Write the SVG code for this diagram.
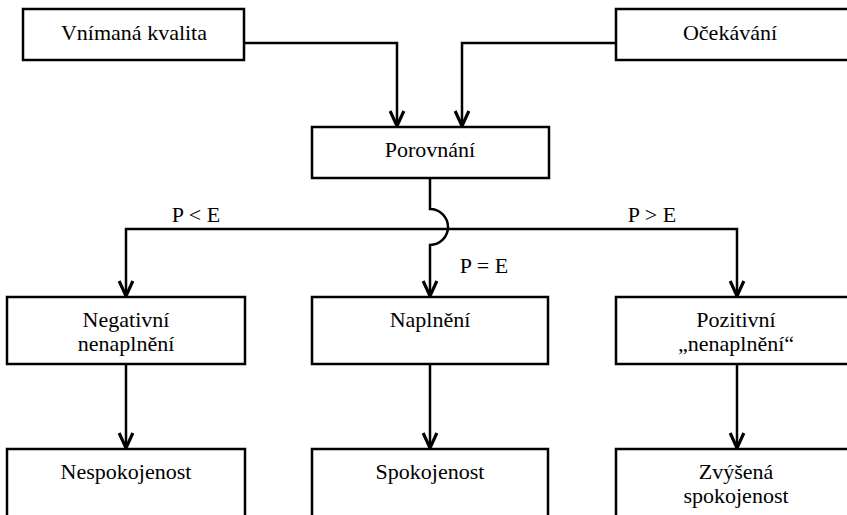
<svg xmlns="http://www.w3.org/2000/svg" width="847" height="515" viewBox="0 0 847 515">
<style>
.box{fill:#fff;stroke:#000;stroke-width:2.5}
.t{font-family:'Liberation Serif','Times New Roman',Times,'DejaVu Serif',serif;font-size:22px;fill:#000;text-anchor:middle}
.c{fill:none;stroke:#000;stroke-width:2.5}
</style>
<defs>
<marker id="ah" markerUnits="userSpaceOnUse" markerWidth="20" markerHeight="20" viewBox="-14 -8 16 16" refX="0" refY="0" orient="auto">
<path d="M-12,-5.5 L0,0 L-12,5.5" fill="none" stroke="#000" stroke-width="2.5"/>
</marker>
</defs>
<rect width="847" height="515" fill="#fff"/>
<g id="connectors">
<path class="c" d="M244 43 H397 V126" marker-end="url(#ah)"/>
<path class="c" d="M616 43 H462 V126" marker-end="url(#ah)"/>
<path class="c" d="M430 178 V209 A18 18 0 0 1 430 245 V296" marker-end="url(#ah)"/>
<path class="c" d="M430 229 H126 V296" marker-end="url(#ah)"/>
<path class="c" d="M430 229 H737 V296" marker-end="url(#ah)"/>
<path class="c" d="M126 364 V448" marker-end="url(#ah)"/>
<path class="c" d="M430 364 V448" marker-end="url(#ah)"/>
<path class="c" d="M737 364 V448" marker-end="url(#ah)"/>
<text class="t" x="196" y="222">P &lt; E</text>
<text class="t" x="652" y="222">P &gt; E</text>
<text class="t" x="484" y="273">P = E</text>
</g>
<g id="n1"><rect class="box" x="23" y="9" width="221" height="51"/><text class="t" x="134" y="40">Vnímaná kvalita</text></g>
<g id="n2"><rect class="box" x="616" y="9" width="240" height="51"/><text class="t" x="730" y="40">Očekávání</text></g>
<g id="n3"><rect class="box" x="312" y="127" width="237" height="51"/><text class="t" x="430" y="157">Porovnání</text></g>
<g id="n4"><rect class="box" x="7" y="297" width="238" height="67"/><text class="t" x="126" y="327">Negativní</text><text class="t" x="126" y="351">nenaplnění</text></g>
<g id="n5"><rect class="box" x="312" y="297" width="236" height="67"/><text class="t" x="430" y="327">Naplnění</text></g>
<g id="n6"><rect class="box" x="616" y="297" width="240" height="67"/><text class="t" x="736" y="327">Pozitivní</text><text class="t" x="736" y="351">„nenaplnění“</text></g>
<g id="n7"><rect class="box" x="7" y="449" width="238" height="80"/><text class="t" x="126" y="479">Nespokojenost</text></g>
<g id="n8"><rect class="box" x="312" y="449" width="236" height="80"/><text class="t" x="430" y="479">Spokojenost</text></g>
<g id="n9"><rect class="box" x="616" y="449" width="240" height="80"/><text class="t" x="736" y="479">Zvýšená</text><text class="t" x="736" y="503">spokojenost</text></g>
</svg>
